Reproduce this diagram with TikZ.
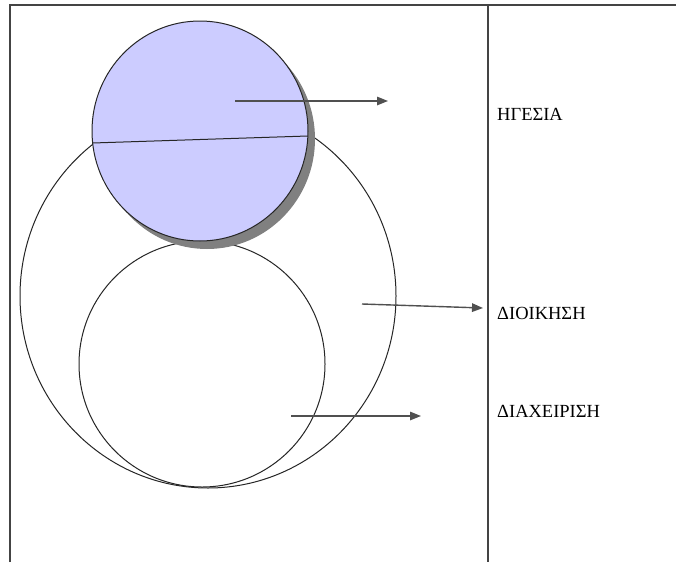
\documentclass[tikz,border=0pt]{standalone}
\usepackage{fontspec}
\setmainfont{Liberation Serif}
\usetikzlibrary{arrows.meta}
\definecolor{lilac}{HTML}{CCCCFF}
\definecolor{frameline}{HTML}{444444}
\definecolor{arrowline}{HTML}{505050}
\definecolor{shadowgrey}{HTML}{808080}
\tikzset{
  frame/.style={draw=frameline, line width=1.8pt},
  ring/.style={draw=black!85, line width=1pt},
  pointer/.style={draw=arrowline, line width=1.4pt, -{Triangle[length=11pt,width=8.5pt]}},
  label/.style={anchor=base west, inner sep=0pt, font=\fontsize{18.5}{20}\selectfont}
}
\begin{document}
\begin{tikzpicture}[x=1pt, y=-1pt]
  \useasboundingbox[fill=white] (0,0) rectangle (676,562);

  % page frame and column divider
  \draw[frame] (10,562) -- (10,5) -- (676,5);
  \draw[frame] (488,5) -- (488,562);

  % outer ring and inner ring
  \draw[ring] (208,296) ellipse [x radius=188, y radius=192];
  \draw[ring] (202,364) circle [radius=123];

  % dropped shadow, then the disc with its dividing chord
  \fill[shadowgrey] (207,139) ellipse [x radius=108, y radius=110];
  \draw[ring, fill=lilac] (200,131) ellipse [x radius=108, y radius=110];
  \coordinate (chordL) at (92.5,143);
  \coordinate (chordR) at (307.8,136);
  \draw[ring] (chordL) -- (chordR);

  % labels
  \node[label] (lead) at (497,120) {ΗΓΕΣΙΑ};
  \node[label] (admin) at (497,319) {ΔΙΟΙΚΗΣΗ};
  \node[label] (manage) at (497,417) {ΔΙΑΧΕΙΡΙΣΗ};

  % pointers
  \coordinate (p1) at (235,101);
  \coordinate (q1) at (388,101);
  \coordinate (p2) at (362,304);
  \coordinate (q2) at (483,308);
  \coordinate (p3) at (291,416);
  \coordinate (q3) at (421,416);
  \draw[pointer] (p1) -- (q1);
  \draw[pointer] (p2) -- (q2);
  \draw[pointer] (p3) -- (q3);
\end{tikzpicture}
\end{document}
